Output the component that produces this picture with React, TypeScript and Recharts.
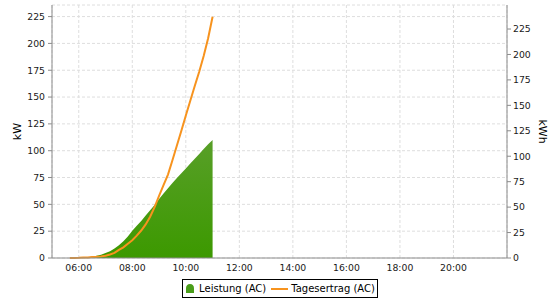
import React from 'react';
import { ComposedChart, Area, Line, XAxis, YAxis, CartesianGrid, Legend } from 'recharts';

// Sample times (local clock) shared by both series
const times = [
  '05:40', '05:50', '06:00', '06:10', '06:20', '06:30', '06:40', '06:50',
  '07:00', '07:10', '07:20', '07:30', '07:40', '07:50', '08:00', '08:10',
  '08:20', '08:30', '08:40', '08:50', '09:00', '09:10', '09:20', '09:30',
  '09:40', '09:50', '10:00', '10:10', '10:20', '10:30', '10:40', '10:50', '11:00',
];

// Leistung (AC) in kW
const leistungKW = [
  0, 0.1, 0.2, 0.4, 0.7, 1.2, 2.0, 3.1,
  4.6, 6.4, 8.8, 11.8, 15.5, 20, 25.5, 30,
  34.5, 39.5, 44.5, 49.5, 55, 60, 65, 70,
  74.5, 79, 83.5, 88, 92.5, 97, 101.5, 106, 110,
];

// Tagesertrag (AC) in kWh
const tagesertragKWh = [
  0, 0.1, 0.2, 0.4, 0.6, 0.9, 1.2, 1.6,
  2.2, 3.5, 5.0, 8.0, 10.5, 14, 17.5, 22,
  27, 33, 40.5, 50, 61, 71.5, 82, 96,
  110.5, 125, 140, 154.5, 169, 183, 198.5, 216, 237,
];

const hourTicks = [6, 8, 10, 12, 14, 16, 18, 20];
const valueTicks = [0, 25, 50, 75, 100, 125, 150, 175, 200, 225];

const FONT = 'DejaVu Sans';
const AXIS = '#8c8c8c';
const GREEN = '#4a9d1a';
const ORANGE = '#f7931e';

const toHours = (t: string) => {
  const [h, m] = t.split(':').map(Number);
  return h + m / 60;
};
const formatHour = (h: number) => `${String(Math.round(h)).padStart(2, '0')}:00`;

const data = times.map((t, i) => ({
  hour: toHours(t),
  leistung: leistungKW[i],
  ertrag: tagesertragKWh[i],
}));

const tickStyle = { fill: '#1a1a1a', fontSize: 9.3, fontFamily: FONT };

const LegendBox = () => (
  <div style={{ display: 'flex', justifyContent: 'center' }}>
    <div
      style={{
        boxSizing: 'border-box',
        height: 19,
        border: '1px solid #000',
        display: 'flex',
        alignItems: 'center',
        padding: '0 2px 0 3px',
        fontFamily: FONT,
        fontSize: 10,
        color: '#000',
        background: '#fff',
        lineHeight: '17px',
      }}
    >
      <svg width={8} height={9} style={{ display: 'block' }}>
        <path d="M0 9 V4.5 Q0 0 4 0 Q8 0 8 4.5 V9 Z" fill={GREEN} />
      </svg>
      <span style={{ marginLeft: 5 }}>Leistung (AC)</span>
      <svg width={17} height={4} style={{ display: 'block', marginLeft: 5 }}>
        <line x1={0} y1={2} x2={17} y2={2} stroke={ORANGE} strokeWidth={2} />
      </svg>
      <span style={{ marginLeft: 3 }}>Tagesertrag (AC)</span>
    </div>
  </div>
);

const axisTitle = (text: string, dxFromLeft: number, angle: number) => (props: any) => {
  const vb = props.viewBox || { x: 0, y: 0, width: 0, height: 0 };
  const cx = vb.x + dxFromLeft;
  const cy = vb.y + vb.height / 2;
  return (
    <text
      x={cx}
      y={cy}
      transform={`rotate(${angle} ${cx} ${cy})`}
      textAnchor="middle"
      dominantBaseline="central"
      fontFamily={FONT}
      fontSize={11}
      fill="#000"
    >
      {text}
    </text>
  );
};

export default function App() {
  return (
    <div style={{ position: 'absolute', left: 0, top: 0, background: '#fff' }}>
      <ComposedChart
        width={560}
        height={300}
        data={data}
        margin={{ top: 5, right: 0, bottom: 2, left: 0 }}
        style={{ fontFamily: FONT }}
      >
        <defs>
          <linearGradient id="leistungFill" x1="0" y1="0" x2="0" y2="1">
            <stop offset="0%" stopColor="#589f28" />
            <stop offset="100%" stopColor="#3c9900" />
          </linearGradient>
        </defs>
        <CartesianGrid yAxisId="left" stroke="#dedede" strokeDasharray="3 2" />
        <XAxis
          dataKey="hour"
          type="number"
          domain={[5, 22]}
          ticks={hourTicks}
          interval={0}
          tickFormatter={formatHour}
          tick={tickStyle}
          tickLine={false}
          tickSize={4}
          tickMargin={2}
          height={21}
          axisLine={{ stroke: AXIS }}
        />
        <XAxis
          xAxisId="top"
          orientation="top"
          dataKey="hour"
          type="number"
          domain={[5, 22]}
          height={0}
          tick={false}
          tickLine={false}
          axisLine={{ stroke: AXIS }}
        />
        <YAxis
          yAxisId="left"
          width={52}
          domain={[0, 235.8]}
          ticks={valueTicks}
          interval={0}
          tick={tickStyle}
          tickSize={4}
          tickMargin={3}
          tickLine={{ stroke: AXIS }}
          axisLine={{ stroke: AXIS }}
          label={axisTitle('kW', 17.5, -90)}
        />
        <YAxis
          yAxisId="right"
          orientation="right"
          width={53}
          domain={[0, 248.6]}
          ticks={valueTicks}
          interval={0}
          tick={tickStyle}
          tickSize={4}
          tickMargin={2}
          tickLine={{ stroke: AXIS }}
          axisLine={{ stroke: AXIS }}
          label={axisTitle('kWh', 35.5, 90)}
        />
        <Area
          yAxisId="left"
          type="linear"
          dataKey="leistung"
          name="Leistung (AC)"
          stroke="none"
          fill="url(#leistungFill)"
          fillOpacity={1}
          isAnimationActive={false}
        />
        <Line
          yAxisId="right"
          type="linear"
          dataKey="ertrag"
          name="Tagesertrag (AC)"
          stroke={ORANGE}
          strokeWidth={2}
          dot={false}
          activeDot={false}
          isAnimationActive={false}
        />
        <Legend verticalAlign="bottom" content={<LegendBox />} />
      </ComposedChart>
    </div>
  );
}
